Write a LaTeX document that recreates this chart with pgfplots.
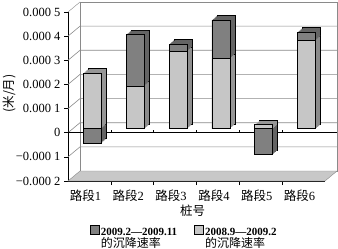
\documentclass[border=0pt]{standalone}
\usepackage{fontspec}
\setmainfont{Liberation Serif}
\newfontfamily\cjk{Noto Sans CJK SC}
\usepackage{pgfplots}
\usepackage{pgfplotstable}
\pgfplotsset{compat=1.18}
\definecolor{darkbar}{HTML}{808080}
\definecolor{lightbar}{HTML}{C6C6C6}
\definecolor{darkside}{HTML}{646464}
\definecolor{lightside}{HTML}{969696}
\definecolor{floorc}{HTML}{C8C8C8}
\definecolor{gridc}{HTML}{8A8A8A}
% outer extent of each bar (dark series on top of / below light series)
\pgfplotstableread{
x     dark       light
0.5  -0.000060   0.000230
1.5   0.000390   0.000176
2.5   0.000350   0.000320
3.5   0.000450   0.000290
4.5  -0.000107   0.000017
5.5   0.000400   0.000366
}\bars
\newcommand\bk[2]{([shift={(12pt,10pt)}]axis cs:#1,#2)}
\newcommand\legtext[1]{\begin{tabular}{@{}l@{}}\fontsize{11}{11}\selectfont\textbf{#1}\\[-1.5pt]{\cjk\fontsize{12}{12}\selectfont 的沉降速率}\end{tabular}}
\pgfplotsset{barbase/.style={ybar, bar width=18pt, bar shift=0pt, forget plot}}
\begin{document}
\begin{tikzpicture}
\begin{axis}[name=ax, scale only axis, width=257pt, height=169pt,
  xmin=0, xmax=6, ymin=-0.0002, ymax=0.0005, clip=false,
  axis lines=left, axis line style={-, black, line width=0.6pt},
  scaled y ticks=false,
  ytick={-0.0002,-0.0001,0,0.0001,0.0002,0.0003,0.0004,0.0005},
  yticklabels={−0.000 2,−0.000 1,0,0.000 1,0.000 2,0.000 3,0.000 4,0.000 5},
  xtick={0.5,1.5,2.5,3.5,4.5,5.5},
  xticklabels={{{\cjk 路段}1},{{\cjk 路段}2},{{\cjk 路段}3},{{\cjk 路段}4},{{\cjk 路段}5},{{\cjk 路段}6}},
  minor xtick={1,2,3,4,5},
  tick align=outside, major tick length=4pt, minor tick length=4pt,
  x tick style={draw=none}, minor x tick style={draw=black, line width=0.5pt},
  y tick style={black, line width=0.5pt},
  yticklabel style={font=\fontsize{12.5}{13}\selectfont},
  xticklabel style={font=\fontsize{12.5}{13}\selectfont, xshift=-4pt, yshift=-1pt},
  xlabel={桩号}, xlabel style={font=\fontsize{12.5}{13}\selectfont\cjk, xshift=-4pt, yshift=3pt},
  ylabel={(米/月)},
  every axis y label/.style={at={([xshift=-59pt]rel axis cs:0,0.518)}, rotate=90, anchor=center,
    font=\fontsize{12.5}{13}\selectfont\cjk},
  legend columns=2,
  legend style={at={(0.085,-0.262)}, anchor=north west, draw=none, fill=none, inner sep=0pt,
    nodes={inner sep=1pt},
    /tikz/every even column/.style={column sep=16pt}},
  legend cell align=left,
]
% walls
\draw[gridc, fill=white] \bk{0}{-0.0002} rectangle \bk{6}{0.0005};
\draw[gridc, fill=floorc] (axis cs:0,-0.0002) -- (axis cs:6,-0.0002) -- \bk{6}{-0.0002} -- \bk{0}{-0.0002} -- cycle;
\draw[gridc] (axis cs:0,0.0005) -- \bk{0}{0.0005};
\pgfplotsinvokeforeach{-0.0001,0,0.0001,0.0002,0.0003,0.0004}{
  \draw[gridc, line width=0.6pt] (axis cs:0,#1) -- \bk{0}{#1} -- \bk{6}{#1};
}
\draw[black, line width=0.6pt] (axis cs:0,0) -- ([xshift=12pt]axis cs:6,0);
\pgfplotsinvokeforeach{1,2,3,4,5}{\draw[black, line width=0.5pt] (axis cs:#1,0) -- ([yshift=3pt]axis cs:#1,0);}
% depth (side/top faces), deepest first
\addplot[barbase, fill=darkside, draw=black, line width=0.6pt, xshift=8pt, yshift=8.5pt] table[x=x, y=dark] {\bars};
\addplot[barbase, fill=lightside, draw=black, line width=0.6pt, xshift=8pt, yshift=8.5pt] table[x=x, y=light] {\bars};
\pgfplotsinvokeforeach{7,6,5,4}{
  \addplot[barbase, fill=darkside, draw=none, xshift=#1pt, yshift=4pt+0.9*(#1pt-3pt)] table[x=x, y=dark] {\bars};
  \addplot[barbase, fill=lightside, draw=none, xshift=#1pt, yshift=4pt+0.9*(#1pt-3pt)] table[x=x, y=light] {\bars};
}
% front faces
\addplot[barbase, fill=darkbar, draw=black, line width=0.6pt, xshift=3pt, yshift=4pt] table[x=x, y=dark] {\bars};
\addplot[barbase, fill=lightbar, draw=black, line width=0.6pt, xshift=3pt, yshift=4pt] table[x=x, y=light] {\bars};
\addlegendimage{legend image code/.code={\draw[fill=darkbar, draw=black, line width=0.8pt] (0pt,0.5pt) rectangle (9pt,9.5pt);}}
\addlegendentry{\legtext{2009.2—2009.11}}
\addlegendimage{legend image code/.code={\draw[fill=lightbar, draw=black, line width=0.8pt] (0pt,0.5pt) rectangle (9pt,9.5pt);}}
\addlegendentry{\legtext{2008.9—2009.2}}
\end{axis}
\pgfresetboundingbox
\path[use as bounding box] ([shift={(-68pt,-67pt)}]ax.south west) rectangle ([shift={(13pt,12pt)}]ax.north east);
\end{tikzpicture}
\end{document}
